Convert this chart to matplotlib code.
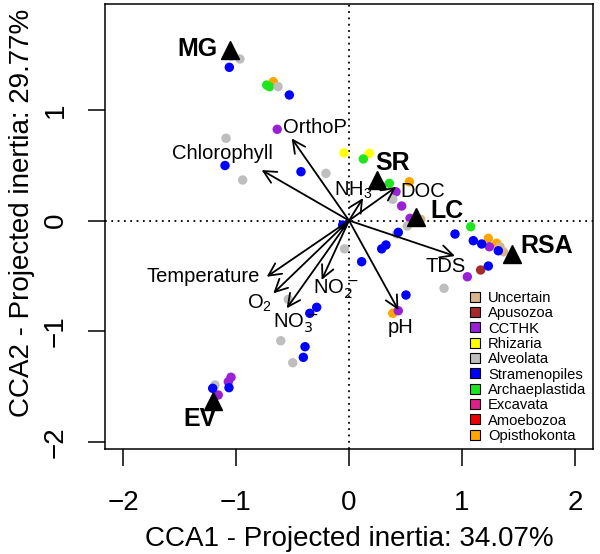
import matplotlib
matplotlib.use('Agg')
import matplotlib.pyplot as plt
from matplotlib.lines import Line2D
from matplotlib.patches import FancyArrowPatch

plt.rcParams['font.family'] = ['Liberation Sans', 'DejaVu Sans']
plt.rcParams['mathtext.fontset'] = 'custom'
plt.rcParams['mathtext.rm'] = 'Liberation Sans'
plt.rcParams['mathtext.it'] = 'Liberation Sans:italic'
plt.rcParams['mathtext.bf'] = 'Liberation Sans:bold'

# ---- data ----
legend_labels = ['Uncertain', 'Apusozoa', 'CCTHK', 'Rhizaria', 'Alveolata',
                 'Stramenopiles', 'Archaeplastida', 'Excavata', 'Amoebozoa', 'Opisthokonta']
legend_colors = ['#D8B48A', '#A52A2A', '#9A20D8', '#FFFF00', '#BEBEBE',
                 '#0000FF', '#1EE61E', '#E0208A', '#EE0000', '#FFA500']

opis_x = [-0.670, 0.534, 1.233, 1.307, 0.387]
opis_y = [1.254, 0.350, -0.161, -0.206, -0.838]
unc_x = [0.635, 1.336, 1.366]
unc_y = [0.011, -0.237, -0.282]
apu_x = [1.165]
apu_y = [-0.447]
rhi_x = [-0.044, 0.180]
rhi_y = [0.612, 0.607]
arch_x = [-0.728, -0.704, 0.127, 0.357, 1.077]
arch_y = [1.224, 1.209, 0.556, 0.336, -0.056]
cct_x = [-0.635, 0.283, 0.416, 0.466, 0.540, 1.242, 1.047, 0.436, -1.044, -1.068, -1.157]
cct_y = [0.824, 0.312, 0.260, 0.131, 0.020, -0.237, -0.508, -0.815, -1.416, -1.456, -1.576]
alv_x = [-1.044, -0.965, -0.628, -1.088, -0.941, -0.204, 0.387, 0.516, 0.422, -0.040,
         0.841, -0.537, -0.604, -0.498, -1.186]
alv_y = [1.486, 1.459, 1.210, 0.743, 0.366, 0.426, 0.192, -0.050, -0.122, -0.256,
         -0.612, -0.712, -1.086, -1.285, -1.486]
stra_x = [-1.059, -0.528, -1.097, -0.425, -0.056, 0.436, 0.327, 0.289, 0.112, 0.938,
          1.100, 1.174, 1.321, 1.233, 0.504, -0.286, -0.347, -0.389, -0.404, -1.062, -1.206]
stra_y = [1.384, 1.134, 0.497, 0.441, -0.041, -0.107, -0.221, -0.256, -0.372, -0.122,
          -0.182, -0.212, -0.273, -0.411, -0.673, -0.784, -0.838, -1.140, -1.236, -1.510, -1.516]

site_names = ['MG', 'SR', 'LC', 'RSA', 'EV']
site_x = [-1.053, 0.245, 0.593, 1.440, -1.200]
site_y = [1.540, 0.365, 0.029, -0.300, -1.630]
site_lab_x = [-1.345, 0.389, 0.865, 1.750, -1.319]
site_lab_y = [1.545, 0.517, 0.090, -0.232, -1.793]

env_names = ['OrthoP', 'Chlorophyll', 'Temperature', r'O$_2$', r'NO$_3^-$',
             r'NO$_2^-$', r'NH$_3$', 'DOC', 'TDS', 'pH']
env_x = [-0.507, -0.773, -0.728, -0.670, -0.551, -0.242, 0.124, 0.416, 0.938, 0.437]
env_y = [0.742, 0.456, -0.508, -0.658, -0.793, -0.537, 0.203, 0.303, -0.321, -0.809]
env_lab_x = [-0.301, -1.124, -0.788, -0.796, -0.469, -0.115, 0.040, 0.655, 0.854, 0.460]
env_lab_y = [0.836, 0.607, -0.508, -0.745, -0.926, -0.619, 0.276, 0.260, -0.417, -0.962]
env_ha = ['center', 'center', 'right', 'center', 'center', 'center', 'center', 'center', 'center', 'center']

x_ticks = [-2, -1, 0, 1, 2]
y_ticks = [-2, -1, 0, 1]

# ---- figure ----
fig = plt.figure(figsize=(6.0, 5.54), dpi=100)
ax = fig.add_axes([105/600, 1-449/554, 488/600, 445/554])
ax.set_xlim(-2.159, 2.159)
ax.set_ylim(-2.064, 1.956)

dot_style = dict(linestyle=(0, (1, 2.5)), color='black', lw=1.3, zorder=1)
ax.axhline(0, **dot_style)
ax.axvline(0, **dot_style)

ms = 46
series = [(opis_x, opis_y, '#FFA500'), (unc_x, unc_y, '#D8B48A'), (apu_x, apu_y, '#A52A2A'),
          (rhi_x, rhi_y, '#FFFF00'), (arch_x, arch_y, '#1EE61E'), (cct_x, cct_y, '#9A20D8'),
          (alv_x, alv_y, '#BEBEBE'), (stra_x, stra_y, '#0000FF')]
for xs, ys, c in series:
    ax.scatter(xs, ys, s=ms, color=c, edgecolors='none', zorder=2)

for x, y in zip(env_x, env_y):
    arr = FancyArrowPatch((0, 0), (x, y), arrowstyle='->,head_length=9,head_width=4.5',
                          mutation_scale=1, lw=1.3, color='black', shrinkA=0, shrinkB=0, zorder=3)
    ax.add_patch(arr)
for name, x, y, ha in zip(env_names, env_lab_x, env_lab_y, env_ha):
    mf = 'dejavusans' if '^' in name else 'custom'
    ax.text(x, y, name, fontsize=14.5, ha=ha, va='center', zorder=5, math_fontfamily=mf)

ax.plot(site_x, site_y, linestyle='', marker='^', markersize=13, color='black', zorder=4)
for name, x, y in zip(site_names, site_lab_x, site_lab_y):
    ax.text(x, y, name, fontsize=18, fontweight='bold', ha='center', va='center', zorder=5)

handles = [Line2D([], [], linestyle='', marker='s', markersize=7.5, markerfacecolor=c,
                  markeredgecolor='black', markeredgewidth=0.8) for c in legend_colors]
ax.legend(handles, legend_labels, loc='upper left', bbox_to_anchor=(0.743, 0.355),
          frameon=False, fontsize=10.6, handlelength=1.0, handletextpad=0.4,
          borderpad=0, borderaxespad=0, labelspacing=0.09, handleheight=0.8)

ax.set_xticks(x_ticks)
ax.set_yticks(y_ticks)
ax.set_xticklabels([f'{t}'.replace('-', '\u2212') for t in x_ticks])
ax.set_yticklabels([f'{t}'.replace('-', '\u2212') for t in y_ticks], rotation=90, va='center')
ax.tick_params(axis='both', direction='out', length=12, width=1.1, labelsize=20)
ax.tick_params(axis='x', pad=17.5)
ax.tick_params(axis='y', pad=14)
for sp in ax.spines.values():
    sp.set_linewidth(1.1)

ax.set_xlabel('CCA1 - Projected inertia: 34.07%', fontsize=20, labelpad=7)
ax.set_ylabel('CCA2 - Projected inertia: 29.77%', fontsize=20)
ax.yaxis.set_label_coords(-0.143, 0.53)

fig.savefig('out.png', dpi=100)
